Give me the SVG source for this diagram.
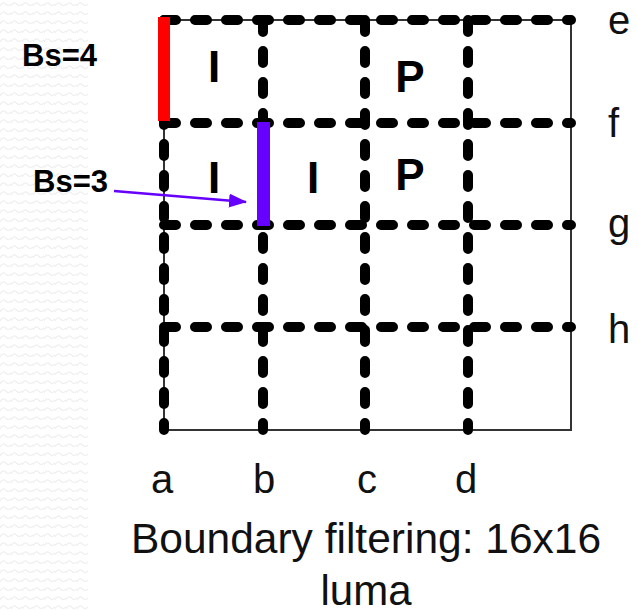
<svg xmlns="http://www.w3.org/2000/svg" width="638" height="610" viewBox="0 0 638 610">
<style>
.dash{stroke:#000;stroke-width:10;stroke-dasharray:12 19;stroke-linecap:round;fill:none}
.thin{stroke:#333;stroke-width:2;fill:none}
.big{font-family:"Liberation Sans",Arial,sans-serif;font-weight:bold;font-size:44px;fill:#000}
.bs{font-family:"Liberation Sans",Arial,sans-serif;font-weight:bold;font-size:31px;fill:#000}
.lbl{font-family:"Liberation Sans",Arial,sans-serif;font-size:40px;fill:#111}
</style>
<defs>
<pattern id="wave" width="11" height="9" patternUnits="userSpaceOnUse">
<path d="M0,6 Q2.75,1 5.5,4 T11,4" stroke="#efefef" stroke-width="1.2" fill="none"/>
</pattern>
<marker id="ah" markerWidth="18" markerHeight="14" refX="17" refY="7" orient="auto" markerUnits="userSpaceOnUse" viewBox="0 0 18 14">
<path d="M0,0 L18,7 L0,14 z" fill="#6600ff"/>
</marker>
</defs>
<rect width="638" height="610" fill="#fff"/>
<rect x="0" y="0" width="88" height="610" fill="url(#wave)"/>
<g id="grid">
<rect class="thin" x="164" y="20" width="407" height="410"/>
<line class="dash" x1="164" y1="20" x2="571" y2="20"/>
<line class="dash" x1="164" y1="123" x2="571" y2="123"/>
<line class="dash" x1="164" y1="225" x2="571" y2="225"/>
<line class="dash" x1="164" y1="327" x2="571" y2="327"/>
<line class="dash" x1="164" y1="20" x2="164" y2="430"/>
<line class="dash" x1="263" y1="20" x2="263" y2="430"/>
<line class="dash" x1="365" y1="20" x2="365" y2="430"/>
<line class="dash" x1="468" y1="20" x2="468" y2="430"/>
</g>
<g id="edge-bs4"><rect x="158" y="17" width="12" height="104" fill="#ff0000"/></g>
<g id="edge-bs3"><rect x="257" y="122" width="13" height="104" fill="#6600ff"/></g>
<g id="blocks">
<text class="big" x="214" y="82" text-anchor="middle">I</text>
<text class="big" x="410" y="92" text-anchor="middle">P</text>
<text class="big" x="214" y="193" text-anchor="middle">I</text>
<text class="big" x="313" y="193" text-anchor="middle">I</text>
<text class="big" x="410" y="190" text-anchor="middle">P</text>
</g>
<g id="label-bs4"><text class="bs" x="22" y="66">Bs=4</text></g>
<g id="label-bs3"><text class="bs" x="33" y="192">Bs=3</text></g>
<g id="connectors">
<line x1="114" y1="191" x2="246" y2="202" stroke="#6600ff" stroke-width="2.5" marker-end="url(#ah)"/>
</g>
<g id="axis-labels">
<text class="lbl" x="608" y="34">e</text>
<text class="lbl" x="608" y="137">f</text>
<text class="lbl" x="608" y="237">g</text>
<text class="lbl" x="608" y="343">h</text>
<text class="lbl" x="162" y="493" text-anchor="middle">a</text>
<text class="lbl" x="264" y="493" text-anchor="middle">b</text>
<text class="lbl" x="367" y="493" text-anchor="middle">c</text>
<text class="lbl" x="466" y="493" text-anchor="middle">d</text>
</g>
<g id="caption">
<text class="lbl" x="366" y="553" text-anchor="middle" style="font-size:42.5px">Boundary filtering: 16x16</text>
<text class="lbl" x="366" y="605" text-anchor="middle" style="font-size:42px">luma</text>
</g>
</svg>
